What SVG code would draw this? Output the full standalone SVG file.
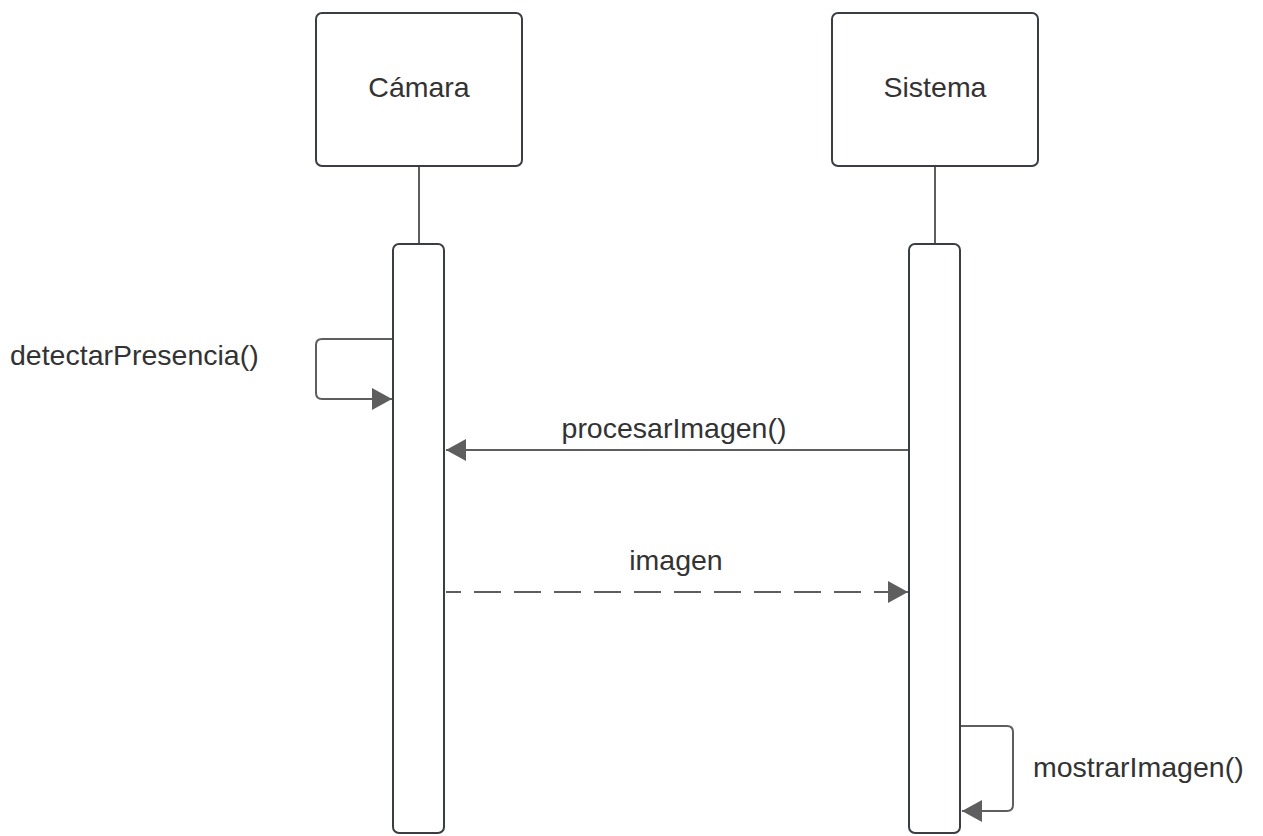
<svg xmlns="http://www.w3.org/2000/svg" width="1263" height="836" viewBox="0 0 1263 836">
<style>
.box{fill:#ffffff;stroke:#3a3d44;stroke-width:2}
.life{stroke:#5e5e5e;stroke-width:2;fill:none}
.msg{stroke:#5e5e5e;stroke-width:2;fill:none}
.dash{stroke-dasharray:27 13;stroke-dashoffset:12}
.t{font-family:"Liberation Sans",Arial,sans-serif;font-size:28.5px;fill:#333333}
.c{text-anchor:middle}
</style>
<defs>
<marker id="arr" markerWidth="20" markerHeight="22" refX="20" refY="11" orient="auto" markerUnits="userSpaceOnUse">
<path d="M0,0 L20,11 L0,22 Z" fill="#5e5e5e"/>
</marker>
</defs>
<rect width="1263" height="836" fill="#ffffff"/>
<g id="camara">
<line class="life" x1="419" y1="166" x2="419" y2="244"/>
<rect class="box" x="316" y="13" width="206" height="153" rx="6"/>
<text class="t c" x="419" y="97">Cámara</text>
<rect class="box" x="393" y="244" width="51" height="589" rx="6"/>
</g>
<g id="sistema">
<line class="life" x1="935" y1="166" x2="935" y2="244"/>
<rect class="box" x="832" y="13" width="206" height="153" rx="6"/>
<text class="t c" x="935" y="97">Sistema</text>
<rect class="box" x="909" y="244" width="51" height="589" rx="6"/>
</g>
<g id="connectors">
<path class="msg" d="M392,339 L322,339 Q316,339 316,345 L316,393 Q316,399 322,399 L392,399" marker-end="url(#arr)"/>
<path class="msg" d="M908,450 L446,450" marker-end="url(#arr)"/>
<path class="msg dash" d="M446,592 L887,592"/>
<path class="msg" d="M880,592 L908,592" marker-end="url(#arr)" stroke-dasharray="0 7 100"/>
<path class="msg" d="M961,726 L1007,726 Q1013,726 1013,732 L1013,805 Q1013,811 1007,811 L962,811" marker-end="url(#arr)"/>
</g>
<g id="labels">
<text class="t" x="10" y="365">detectarPresencia()</text>
<text class="t c" x="674" y="438">procesarImagen()</text>
<text class="t c" x="676" y="570">imagen</text>
<text class="t" x="1033" y="777">mostrarImagen()</text>
</g>
</svg>
